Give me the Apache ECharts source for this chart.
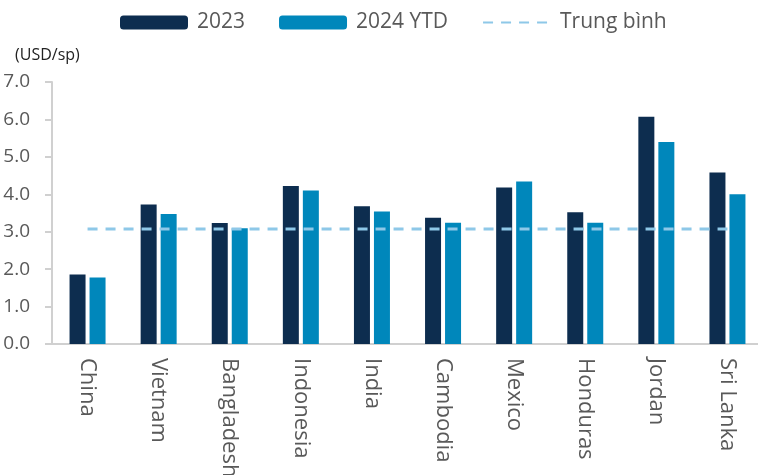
<!DOCTYPE html>
<html>
<head>
<meta charset="utf-8">
<script src="https://cdn.jsdelivr.net/npm/echarts@6/dist/echarts.min.js"></script>
<style>
  html, body { margin: 0; padding: 0; background: #fff; }
  #chart { width: 758px; height: 475px; }
</style>
</head>
<body>
<div id="chart"></div>
<script>
const countries = ['China', 'Vietnam', 'Bangladesh', 'Indonesia', 'India', 'Cambodia', 'Mexico', 'Honduras', 'Jordan', 'Sri Lanka']
const price2023 = [1.86, 3.73, 3.23, 4.22, 3.68, 3.37, 4.18, 3.52, 6.07, 4.58]
const price2024 = [1.78, 3.47, 3.09, 4.10, 3.54, 3.24, 4.34, 3.24, 5.40, 4.00]
const average = 3.07

const textColor = '#595959'
const font = '"Open Sans", "Noto Sans", sans-serif'

const chart = echarts.init(document.getElementById('chart'), null, { renderer: 'canvas' })

chart.setOption({
  animation: false,
  backgroundColor: '#fff',
  textStyle: { fontFamily: font },
  title: {
    text: '(USD/sp)',
    left: 10,
    top: 42,
    textStyle: { fontSize: 16, fontWeight: 'normal', color: '#222', fontFamily: font }
  },
  legend: {
    top: 7,
    left: 115,
    itemWidth: 68,
    itemHeight: 14,
    itemGap: 34,
    textStyle: { fontSize: 21, color: textColor, fontFamily: font, padding: [0, 0, 0, 4] },
    data: [
      '2023',
      '2024 YTD',
      { name: 'Trung bình', itemStyle: { opacity: 0 } }
    ]
  },
  grid: { left: 52, width: 711, top: 82, bottom: 131, outerBoundsMode: 'none', containLabel: false },
  xAxis: {
    type: 'category',
    data: countries,
    axisLine: { lineStyle: { color: '#d0d0d0', width: 2 } },
    axisTick: { show: false },
    axisLabel: {
      rotate: -90,
      margin: 14,
      fontSize: 22,
      color: textColor,
      fontFamily: font
    }
  },
  yAxis: {
    type: 'value',
    min: 0,
    max: 7,
    interval: 1,
    splitLine: { show: false },
    axisLine: { show: true, lineStyle: { color: '#d0d0d0', width: 2 } },
    axisTick: { show: true, length: 7, lineStyle: { color: '#d0d0d0', width: 2 } },
    axisLabel: {
      margin: 22,
      fontSize: 19,
      color: textColor,
      fontFamily: font,
      formatter: v => v.toFixed(1)
    }
  },
  series: [
    {
      name: '2023',
      type: 'bar',
      barWidth: 16,
      barGap: '25%',
      itemStyle: { color: '#0d2d4f' },
      data: price2023
    },
    {
      name: '2024 YTD',
      type: 'bar',
      barWidth: 16,
      itemStyle: { color: '#0087bb' },
      data: price2024
    },
    {
      name: 'Trung bình',
      type: 'line',
      symbol: 'none',
      lineStyle: { color: '#8ec8e8', width: 3, type: [10, 8] },
      itemStyle: { color: '#8ec8e8' },
      data: countries.map(() => average)
    }
  ]
})
</script>
</body>
</html>
